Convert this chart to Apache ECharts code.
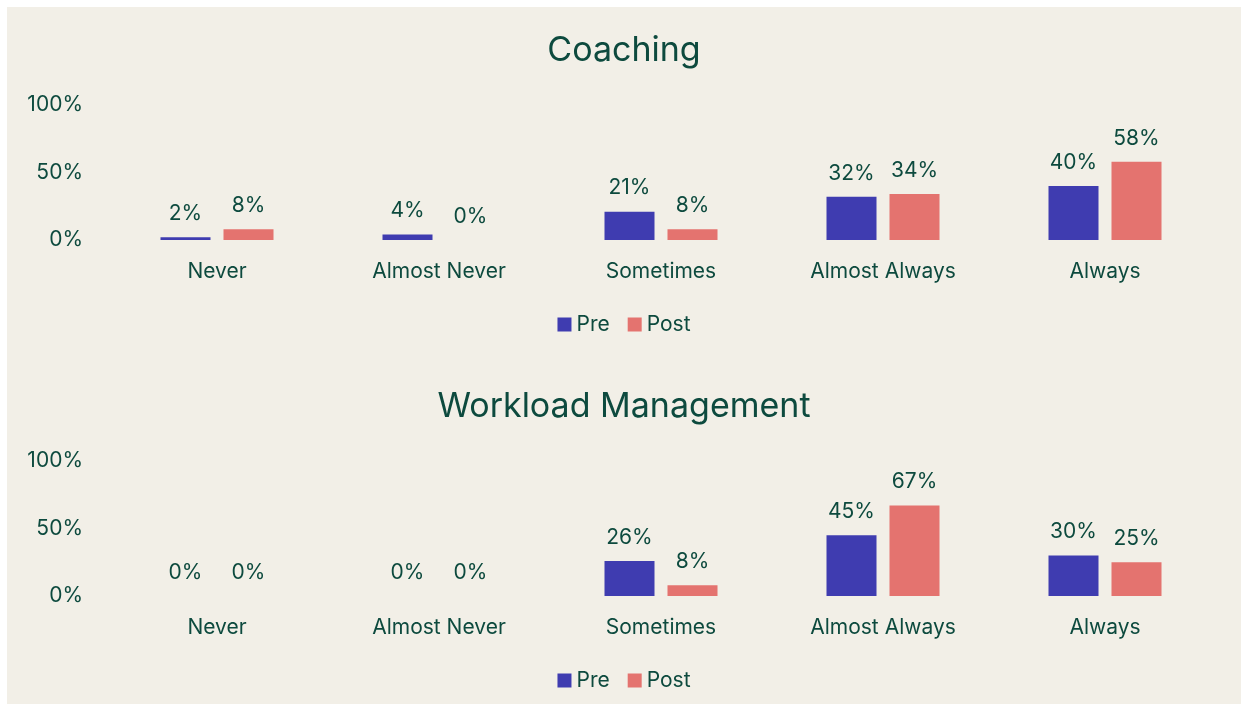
<!DOCTYPE html>
<html>
<head>
<meta charset="utf-8">
<script src="https://cdn.jsdelivr.net/npm/echarts@6/dist/echarts.min.js"></script>
<style>
    body { margin: 0; background: #ffffff; }
    #Chart { position: absolute; left: 7px; top: 7px; width: 1234px; height: 697px; background: #f2efe7; }
</style>
</head>
<body>
<div id="Chart"></div>
<script>
//数据
var categories = ['Never', 'Almost Never', 'Sometimes', 'Almost Always', 'Always'];
var coachingPre = [2, 4, 21, 32, 40];
var coachingPost = [8, 0, 8, 34, 58];
var workloadPre = [0, 0, 26, 45, 30];
var workloadPost = [0, 0, 8, 67, 25];
var yTicks = [0, 50, 100];

var textColor = '#0d4a3e';
var fontName = 'Inter';
var preColor = '#3f3cb0';
var postColor = '#e4736f';

function makeSeries(name, data, color, idx) {
    return {
        name: name,
        type: 'bar',
        xAxisIndex: idx,
        yAxisIndex: idx,
        data: data,
        barWidth: 50,
        barGap: '26%',
        itemStyle: { color: color },
        label: {
            show: true,
            position: 'top',
            distance: 13,
            formatter: '{c}%',
            color: textColor,
            fontFamily: fontName,
            fontSize: 21
        }
    };
}

function makeXAxis(idx) {
    return {
        type: 'category',
        gridIndex: idx,
        data: categories,
        axisLine: { show: false },
        axisTick: { show: false },
        axisLabel: { color: textColor, fontFamily: fontName, fontSize: 21, margin: 21, interval: 0 }
    };
}

function makeYAxis(idx) {
    return {
        type: 'value',
        gridIndex: idx,
        min: yTicks[0],
        max: yTicks[yTicks.length - 1],
        interval: 50,
        splitLine: { show: false },
        axisLine: { show: false },
        axisTick: { show: false },
        axisLabel: { color: textColor, fontFamily: fontName, fontSize: 21, margin: 23, formatter: '{value}%' }
    };
}

var titleStyle = { color: textColor, fontFamily: fontName, fontSize: 34, fontWeight: 'normal' };
var legendText = { color: textColor, fontFamily: fontName, fontSize: 21 };

var myChart = echarts.init(document.getElementById('Chart'));
var option = {
    backgroundColor: '#f2efe7',
    title: [
        { text: 'Coaching', left: 'center', top: 22, textStyle: titleStyle },
        { text: 'Workload Management', left: 'center', top: 378, textStyle: titleStyle }
    ],
    legend: [
        { data: ['Pre', 'Post'], icon: 'rect', top: 302, left: 'center', itemWidth: 14, itemHeight: 14, itemGap: 18, textStyle: legendText },
        { data: ['Pre', 'Post'], icon: 'rect', top: 658, left: 'center', itemWidth: 14, itemHeight: 14, itemGap: 18, textStyle: legendText }
    ],
    grid: [
        { left: 99, width: 1110, top: 98, height: 135 },
        { left: 99, width: 1110, top: 454, height: 135 }
    ],
    xAxis: [makeXAxis(0), makeXAxis(1)],
    yAxis: [makeYAxis(0), makeYAxis(1)],
    series: [
        makeSeries('Pre', coachingPre, preColor, 0),
        makeSeries('Post', coachingPost, postColor, 0),
        makeSeries('Pre', workloadPre, preColor, 1),
        makeSeries('Post', workloadPost, postColor, 1)
    ]
};
myChart.setOption(option);
</script>
</body>
</html>
